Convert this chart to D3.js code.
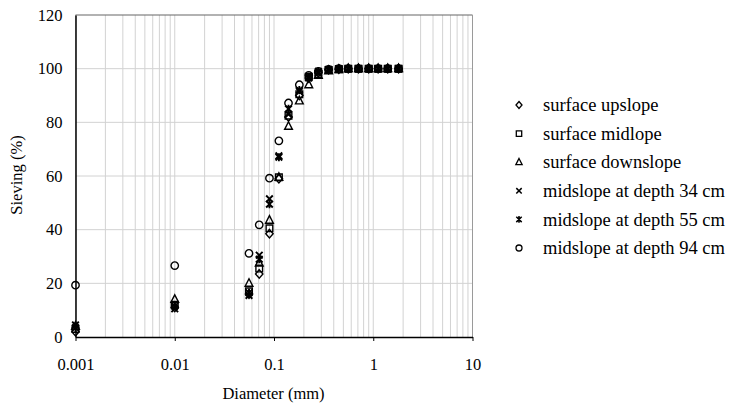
<!DOCTYPE html>
<html>
<head>
<meta charset="utf-8">
<script src="https://cdn.jsdelivr.net/npm/d3@7"></script>
<style>
  html, body { margin: 0; padding: 0; background: #fff; }
  svg { display: block; font-family: "Liberation Serif", "Times New Roman", serif; }
</style>
</head>
<body>
<svg id="chart" width="731" height="404"></svg>
<script>
// Sieve diameters (mm) shared by all samples
const diameters = [0.001, 0.01, 0.056, 0.071, 0.09, 0.112, 0.14, 0.18, 0.224, 0.28, 0.355, 0.45, 0.56, 0.71, 0.9, 1.12, 1.4, 1.8];

// Cumulative passing (%) per sample
const surfaceUpslope   = [2,   11,   16,   23.5, 38.5, 59,   82,   90,   96.5, 98.5, 99.6, 99.8, 100, 100, 100, 100, 100, 100];
const surfaceMidlope   = [3,   12,   17,   25.5, 40.5, 59.5, 82.5, 90.5, 97,   98,   99.5, 99.8, 100, 100, 100, 100, 100, 100];
const surfaceDownslope = [4,   14,   20,   27.5, 43.5, 59.5, 78.5, 88,   94,   97.5, 99.2, 99.7, 100, 100, 100, 100, 100, 100];
const depth34          = [4.5, 10.5, 15.5, 30.5, 51.5, 67.5, 83,   91.5, 96.5, 98.5, 99.6, 100,  100, 100, 100, 100, 100, 100];
const depth55          = [3.5, 11.5, 16.5, 29,   49.5, 67,   85,   92,   97,   99,   99.7, 100,  100, 100, 100, 100, 100, 100];
const depth94          = [19.3, 26.6, 31.2, 41.8, 59.2, 73.1, 87.2, 94,  97.5, 99,   99.7, 100,  100, 100, 100, 100, 100, 100];

const seriesNames = ["surface upslope", "surface midlope", "surface downslope",
                     "midslope at depth 34 cm", "midslope at depth 55 cm", "midslope at depth 94 cm"];
const seriesValues = [surfaceUpslope, surfaceMidlope, surfaceDownslope, depth34, depth55, depth94];
const seriesShapes = ["diamond", "square", "triangle", "cross", "asterisk", "circle"];

const xTicks = [0.001, 0.01, 0.1, 1, 10];
const xTickLabels = ["0.001", "0.01", "0.1", "1", "10"];
const yTicks = [0, 20, 40, 60, 80, 100, 120];

const svg = d3.select("#chart");
const plotLeft = 75.5, plotRight = 472.5, plotTop = 15, plotBottom = 337;

const x = d3.scaleLog().domain([0.001, 10]).range([plotLeft, plotRight]);
const y = d3.scaleLinear().domain([0, 120]).range([plotBottom, plotTop]);

// Marker outlines centred on the origin
function shapePath(shape, s) {
  switch (shape) {
    case "diamond":
      return `M0,${-s * 1.15}L${s},0L0,${s * 1.15}L${-s},0Z`;
    case "square":
      return `M${-s * 0.9},${-s * 0.9}H${s * 0.9}V${s * 0.9}H${-s * 0.9}Z`;
    case "triangle":
      return `M0,${-s * 1.25}L${s * 1.05},${s * 0.8}L${-s * 1.05},${s * 0.8}Z`;
    case "cross":
      return `M${-s * 0.9},${-s * 0.9}L${s * 0.9},${s * 0.9}M${s * 0.9},${-s * 0.9}L${-s * 0.9},${s * 0.9}`;
    case "asterisk":
      return `M${-s * 0.9},${-s * 0.9}L${s * 0.9},${s * 0.9}M${s * 0.9},${-s * 0.9}L${-s * 0.9},${s * 0.9}M0,${-s * 1.1}V${s * 1.1}`;
    case "circle":
      return `M${s},0A${s},${s} 0 1,1 ${-s},0A${s},${s} 0 1,1 ${s},0Z`;
  }
}

// Grid: vertical lines at every log subdivision, horizontal at each y tick
const minorTicks = [];
for (let e = -3; e < 1; e++) {
  for (let m = 1; m <= 9; m++) minorTicks.push(m * Math.pow(10, e));
}
minorTicks.push(10);

const grid = svg.append("g").attr("class", "grid");
grid.selectAll("line.v").data(minorTicks).join("line")
  .attr("class", "v")
  .attr("x1", d => x(d)).attr("x2", d => x(d))
  .attr("y1", plotTop).attr("y2", plotBottom)
  .attr("stroke", "#d2d2d2").attr("stroke-width", 1);
grid.selectAll("line.h").data(yTicks.filter(v => v > 0 && v < 120)).join("line")
  .attr("class", "h")
  .attr("x1", plotLeft).attr("x2", plotRight)
  .attr("y1", d => y(d)).attr("y2", d => y(d))
  .attr("stroke", "#d2d2d2").attr("stroke-width", 1);

// Frame top and right
svg.append("line").attr("x1", plotLeft).attr("x2", plotRight).attr("y1", plotTop).attr("y2", plotTop)
  .attr("stroke", "#666").attr("stroke-width", 1.2);
svg.append("line").attr("x1", plotRight).attr("x2", plotRight).attr("y1", plotTop).attr("y2", plotBottom)
  .attr("stroke", "#9a9a9a").attr("stroke-width", 1);

// Axes
const xAxis = d3.axisBottom(x).tickValues(xTicks)
  .tickFormat((d, i) => xTickLabels[i]).tickSize(4).tickPadding(17).tickSizeOuter(0);
const gx = svg.append("g").attr("transform", `translate(0,${plotBottom})`).call(xAxis);
gx.select(".domain").attr("stroke", "#000").attr("stroke-width", 1.5);
gx.selectAll(".tick line").attr("stroke", "#000");
gx.selectAll(".tick text").attr("font-size", 16.5).attr("fill", "#000")
  .attr("font-family", "Liberation Serif, Times New Roman, serif");

const yAxis = d3.axisLeft(y).tickValues(yTicks).tickSize(0).tickPadding(13).tickSizeOuter(0);
const gy = svg.append("g").attr("transform", `translate(${plotLeft},0)`).call(yAxis);
gy.select(".domain").attr("stroke", "#000").attr("stroke-width", 1.5);
gy.selectAll(".tick text").attr("font-size", 16.5).attr("fill", "#000")
  .attr("font-family", "Liberation Serif, Times New Roman, serif");

// Axis titles
svg.append("text")
  .attr("x", (plotLeft + plotRight) / 2 - 0.5).attr("y", 399)
  .attr("text-anchor", "middle").attr("font-size", 16.5)
  .text("Diameter (mm)");
svg.append("text")
  .attr("transform", "translate(22,175) rotate(-90)")
  .attr("text-anchor", "middle").attr("font-size", 16.5)
  .text("Sieving (%)");

// Data markers
const points = svg.append("g").attr("class", "points");
seriesValues.forEach((vals, si) => {
  points.append("g").selectAll("path")
    .data(diameters.map((d, i) => ({ d, v: vals[i] })))
    .join("path")
    .attr("transform", p => `translate(${x(p.d)},${y(p.v)})`)
    .attr("d", shapePath(seriesShapes[si], 3.7))
    .attr("fill", "none")
    .attr("stroke", "#000")
    .attr("stroke-width", seriesShapes[si] === "cross" || seriesShapes[si] === "asterisk" ? 1.9 : 1.4);
});

// Legend
const legend = svg.append("g").attr("class", "legend");
const legendRow = d3.scaleLinear().domain([0, 5]).range([105, 248]);
seriesNames.forEach((name, i) => {
  const row = legend.append("g").attr("transform", `translate(519,${legendRow(i)})`);
  row.append("path")
    .attr("d", shapePath(seriesShapes[i], 3))
    .attr("fill", "none").attr("stroke", "#000")
    .attr("stroke-width", seriesShapes[i] === "cross" || seriesShapes[i] === "asterisk" ? 1.5 : 1.3);
  row.append("text")
    .attr("x", 24).attr("y", 0).attr("dy", "0.33em")
    .attr("font-size", 18.5)
    .text(name);
});
</script>
</body>
</html>
